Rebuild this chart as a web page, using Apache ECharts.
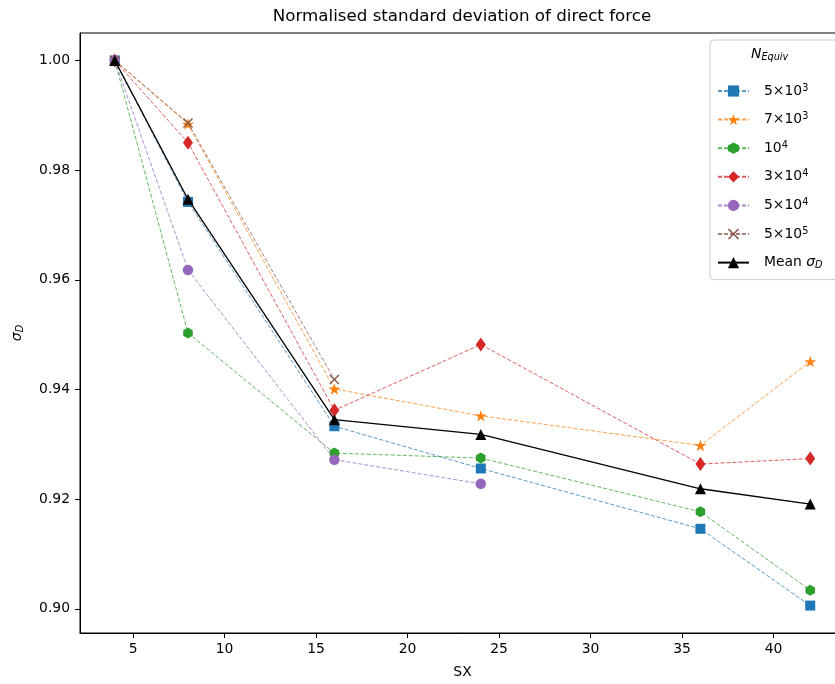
<!DOCTYPE html>
<html>
<head>
<meta charset="utf-8">
<script src="https://cdn.jsdelivr.net/npm/echarts@6/dist/echarts.min.js"></script>
<style>html,body{margin:0;padding:0;background:#fff}#c{width:835px;height:684px}</style>
</head>
<body>
<div id="c"></div>
<script>
// ---- data ----
const sx = [4, 8, 16, 24, 36, 42];
const s5e3 = [1.0, 0.9742, 0.9333, 0.9256, 0.9146, 0.9006];
const s7e3 = [1.0, 0.9884, 0.9401, 0.9352, 0.9298, 0.9451];
const s1e4 = [1.0, 0.9503, 0.9284, 0.9275, 0.9177, 0.9034];
const s3e4 = [1.0, 0.9850, 0.9362, 0.9482, 0.9264, 0.9274];
const s5e4 = [1.0, 0.9618, 0.9272, 0.9228];
const s5e5 = [1.0, 0.9886, 0.9418];
const meanSigma = [1.0, 0.9747, 0.9345, 0.9318, 0.9219, 0.9191];
const seriesNames = ['5×10^3', '7×10^3', '10^4', '3×10^4', '5×10^4', '5×10^5', 'Mean σ_D'];
const xTicks = [5, 10, 15, 20, 25, 30, 35, 40];
const yTicks = [0.90, 0.92, 0.94, 0.96, 0.98, 1.00];

const FONT = 'DejaVu Sans';
const colors = ['#1f77b4', '#ff7f0e', '#2ca02c', '#d62728', '#9467bd', '#8c564b', '#000000'];
const starPath = 'path://M0,-1 L0.2245,-0.309 L0.951,-0.309 L0.363,0.118 L0.588,0.809 L0,0.382 L-0.588,0.809 L-0.363,0.118 L-0.951,-0.309 L-0.2245,-0.309 Z';
const hexPath = 'path://M0,-1 L0.866,-0.5 L0.866,0.5 L0,1 L-0.866,0.5 L-0.866,-0.5 Z';
const xPath = 'path://M0,1 L1,0 L5,4 L9,0 L10,1 L6,5 L10,9 L9,10 L5,6 L1,10 L0,9 L4,5 Z';
const symbols = ['rect', starPath, hexPath, 'diamond', 'circle', xPath, 'triangle'];
const symSizes = [10, 12, 11, [10, 14], 10.5, 10, 11];
const values = [s5e3, s7e3, s1e4, s3e4, s5e4, s5e5, meanSigma];

const series = values.map((vals, i) => ({
  name: seriesNames[i],
  type: 'line',
  data: vals.map((v, j) => [sx[j], v]),
  symbol: symbols[i],
  symbolSize: symSizes[i],
  symbolKeepAspect: true,
  showAllSymbol: true,
  color: colors[i],
  itemStyle: { color: colors[i], opacity: 1 },
  lineStyle: i === 6
    ? { color: '#000', width: 1.3, type: 'solid' }
    : { color: colors[i], width: 1, type: [4, 2], opacity: 0.75 },
  emphasis: { disabled: true },
  z: 2 + i
}));

function legendFmt(name) {
  if (name.indexOf('σ_D') >= 0) return 'Mean {it|σ}{sub|D}';
  const p = name.split('^');
  return p[0] + '{sup|' + p[1] + '}';
}

const chart = echarts.init(document.getElementById('c'), null, { renderer: 'canvas' });
chart.setOption({
  animation: false,
  backgroundColor: '#fff',
  title: {
    text: 'Normalised standard deviation of direct force',
    left: 462, top: 8, textAlign: 'center', padding: 0,
    textStyle: { fontFamily: FONT, fontSize: 16.7, fontWeight: 'normal', color: '#000' }
  },
  grid: {
    left: 80, top: 33, width: 765, height: 600,
    outerBoundsMode: 'none', containLabel: false,
    show: true, borderColor: '#000', borderWidth: 1, backgroundColor: 'transparent'
  },
  xAxis: {
    type: 'value', min: 2.1, max: 43.9,
    name: 'SX', nameLocation: 'middle', nameGap: 32,
    nameTextStyle: { fontFamily: FONT, fontSize: 13.9, color: '#000' },
    axisLine: { show: true, lineStyle: { color: '#000', width: 1 } },
    axisTick: { show: true, length: 5, customValues: xTicks, lineStyle: { color: '#000' } },
    axisLabel: { customValues: xTicks, margin: 9, fontFamily: FONT, fontSize: 13.9, color: '#000' },
    splitLine: { show: false }
  },
  yAxis: {
    type: 'value', min: 0.8956, max: 1.005,
    name: '{it|σ}{sub|D}', nameLocation: 'middle', nameGap: 55, nameRotate: 90,
    nameTextStyle: {
      fontFamily: FONT, fontSize: 13.9, color: '#000',
      rich: {
        it: { fontFamily: FONT, fontSize: 13.9, fontStyle: 'italic', lineHeight: 16, color: '#000' },
        sub: { fontFamily: FONT, fontSize: 9.7, fontStyle: 'italic', lineHeight: 9, verticalAlign: 'bottom', color: '#000' }
      }
    },
    axisLine: { show: true, lineStyle: { color: '#000', width: 1 } },
    axisTick: { show: true, length: 5, customValues: yTicks, lineStyle: { color: '#000' } },
    axisLabel: {
      customValues: yTicks, margin: 10, fontFamily: FONT, fontSize: 13.9, color: '#000',
      formatter: v => v.toFixed(2)
    },
    splitLine: { show: false }
  },
  legend: {
    orient: 'vertical', left: 710, top: 40,
    padding: [43, 20, 9, 7],
    itemWidth: 31, itemHeight: 14, itemGap: 12.6,
    backgroundColor: 'rgba(255,255,255,0.8)', borderColor: '#cccccc', borderWidth: 1, borderRadius: 4,
    data: seriesNames,
    formatter: legendFmt,
    selectedMode: false,
    textStyle: {
      fontFamily: FONT, fontSize: 13.9, color: '#000', lineHeight: 16, padding: [0, 0, 0, 10],
      rich: {
        sup: { fontFamily: FONT, fontSize: 9.7, lineHeight: 7, verticalAlign: 'top', color: '#000' },
        it: { fontFamily: FONT, fontSize: 13.9, fontStyle: 'italic', lineHeight: 16, color: '#000' },
        sub: { fontFamily: FONT, fontSize: 9.7, fontStyle: 'italic', lineHeight: 9, verticalAlign: 'bottom', color: '#000' }
      }
    }
  },
  graphic: [{
    type: 'text', z: 100, left: 773 - 22, top: 47,
    style: {
      text: '{n|N}{sub|Equiv}',
      rich: {
        n: { fontFamily: FONT, fontSize: 13.9, fontStyle: 'italic', lineHeight: 16, fill: '#000' },
        sub: { fontFamily: FONT, fontSize: 9.7, fontStyle: 'italic', lineHeight: 9, verticalAlign: 'bottom', fill: '#000' }
      }
    }
  }],
  series: series
});
</script>
</body>
</html>
